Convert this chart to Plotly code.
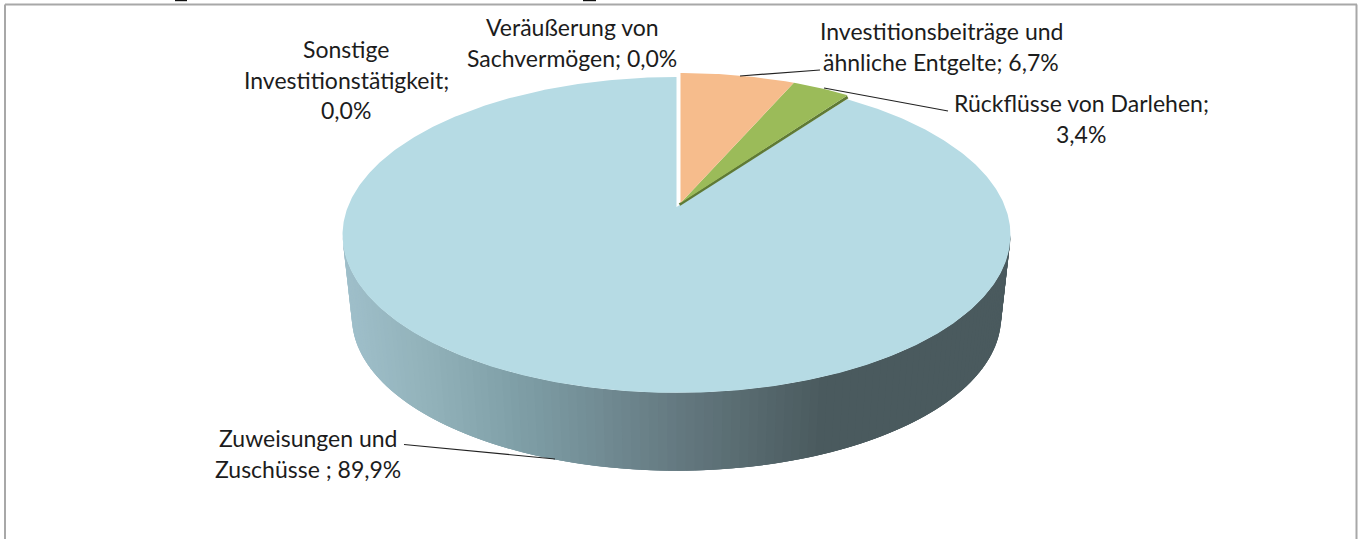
import numpy as np
import plotly.graph_objects as go

# ---- data ----
categories = ["Investitionsbeiträge und ähnliche Entgelte", "Rückflüsse von Darlehen",
              "Zuweisungen und Zuschüsse", "Sonstige Investitionstätigkeit",
              "Veräußerung von Sachvermögen"]
values = [6.7, 3.4, 89.9, 0.0, 0.0]
slice_colors = ["#F6BC8C", "#9BBB59", "#B6DBE4", "#B6DBE4", "#B6DBE4"]
label_lines = [
    ["Investitionsbeiträge und", "ähnliche Entgelte; 6,7%"],
    ["Rückflüsse von Darlehen;", "3,4%"],
    ["Zuweisungen und", "Zuschüsse ; 89,9%"],
    ["Sonstige", "Investitionstätigkeit;", "0,0%"],
    ["Veräußerung von", "Sachvermögen; 0,0%"],
]
label_x = [941, 1081, 308, 346, 572]
label_y = [31, 103, 438, 49, 27]
LINE_STEP = 30.6
FONT = "Lato"
FONT_SIZE = 23

# ---- perspective disc geometry (pixel axes) ----
K = 0.177      # perspective strength
A = 328.7      # horizontal radius
B = 153.0      # vertical radius
BODY = (676.5, 207.0)   # apex of the large slice
PULLED = (680.5, 203.0) # apex of the pulled-out slices
PULLED_SCALE = 0.98
FLOOR_Y = 290.0
FLOOR_SCALE = 0.972


def rim(theta_deg, cx, cy, sx=1.0, sy=1.0):
    t = np.radians(theta_deg)
    u, v = np.sin(t), np.cos(t)
    w = 1 + K * v
    return cx + sx * A * u / w, cy - sy * B * v / w


def side_color(x):
    xs = [345, 430, 515, 600, 680, 760, 825, 1010]
    rs = [160, 146, 128, 114, 100, 86, 74, 74]
    gs = [192, 178, 160, 140, 121, 104, 90, 90]
    bs = [203, 186, 168, 148, 128, 109, 94, 94]
    return "rgb(%d,%d,%d)" % (np.interp(x, xs, rs), np.interp(x, xs, gs), np.interp(x, xs, bs))


fig = go.Figure()


def poly(xs, ys, color):
    fig.add_trace(go.Scatter(x=xs, y=ys, mode="lines", fill="toself", fillcolor=color,
                             line=dict(color=color, width=0),
                             hoverinfo="skip", showlegend=False))


# side wall of the large slice: shaded bands painted from right to left,
# each one running under the next so that no seam shows between them
edge = np.degrees(np.arccos(-K))
steps = np.linspace(edge, 360 - edge, 121)
for j in range(len(steps) - 2, -1, -1):
    a0 = steps[j]
    a1 = steps[j + 1]
    a_far = a0 - (a1 - a0) * 2 if j >= 2 else steps[0]
    tx0, ty0 = rim(a_far, *BODY)
    tx1, ty1 = rim(a1, *BODY)
    tmx, tmy = rim(a0, *BODY)
    bx0, by0 = rim(a_far, BODY[0], FLOOR_Y, FLOOR_SCALE, FLOOR_SCALE)
    bx1, by1 = rim(a1, BODY[0], FLOOR_Y, FLOOR_SCALE, FLOOR_SCALE)
    bmx, bmy = rim(a0, BODY[0], FLOOR_Y, FLOOR_SCALE, FLOOR_SCALE)
    poly([tx0, tmx, tx1, bx1, bmx, bx0, tx0], [ty0, tmy, ty1, by1, bmy, by0, ty0],
         side_color((tmx + tx1 + bmx + bx1) / 4))

# top faces, angles come from the values
ends = np.cumsum(values) * 3.6
starts = np.concatenate([[0], ends[:-1]])
order = [2, 1, 0]
for i in order:
    a = np.linspace(starts[i], ends[i], max(int(values[i] * 6), 12))
    if i == 2:
        rx, ry = rim(a, *BODY)
        px = np.concatenate([[BODY[0]], rx, [BODY[0]]])
        py = np.concatenate([[BODY[1]], ry, [BODY[1]]])
    else:
        rx, ry = rim(a, PULLED[0], PULLED[1], PULLED_SCALE, 1.0)
        px = np.concatenate([[PULLED[0]], rx, [PULLED[0]]])
        py = np.concatenate([[PULLED[1]], ry, [PULLED[1]]])
    if i == 1:  # dark cut face under the green slice
        ex, ey = rim(ends[1], PULLED[0], PULLED[1], PULLED_SCALE, 1.0)
        fig.add_trace(go.Scatter(x=[PULLED[0] - 1, ex], y=[PULLED[1] + 1.6, ey + 1.8], mode="lines",
                                 line=dict(color="#5F7A35", width=2.8),
                                 hoverinfo="skip", showlegend=False))
    poly(px, py, slice_colors[i])

# labels, one annotation per line for the tight Office line pitch
annotations = []
for lines, lx, ly in zip(label_lines, label_x, label_y):
    for n, text in enumerate(lines):
        annotations.append(dict(x=lx, y=ly + n * LINE_STEP, text=text, xref="x", yref="y",
                                showarrow=False, xanchor="center", yanchor="middle",
                                font=dict(family=FONT, size=FONT_SIZE, color="#1c1c1c")))

# leader lines, chart frame and clipped title remnants
leaders = [((740, 76), (820, 70)),
           ((824, 88), (948, 111)),
           ((555, 459), (404, 444.5))]
shapes = []
for p0, p2 in leaders:
    shapes.append(dict(type="line", x0=p0[0], y0=p0[1], x1=p2[0], y1=p2[1],
                       line=dict(color="#222222", width=1.2), layer="above"))
frame = dict(color="#A8A8A8", width=2)
shapes += [dict(type="line", x0=5, y0=4.5, x1=1357, y1=4.5, line=frame),
           dict(type="line", x0=5, y0=4.5, x1=5, y1=539, line=frame),
           dict(type="line", x0=1356.5, y0=4.5, x1=1356.5, y1=539, line=frame)]
for x0, x1 in [(175, 187), (583, 596)]:
    shapes.append(dict(type="line", x0=x0, y0=0.6, x1=x1, y1=0.6,
                       line=dict(color="#111111", width=1.2)))

fig.update_layout(width=1362, height=539, margin=dict(l=0, r=0, t=0, b=0),
                  paper_bgcolor="white", plot_bgcolor="white", showlegend=False,
                  annotations=annotations, shapes=shapes,
                  xaxis=dict(range=[0, 1362], visible=False, fixedrange=True),
                  yaxis=dict(range=[539, 0], visible=False, fixedrange=True))
fig.write_html("out.html", config=dict(displayModeBar=False),
               post_script="document.body.style.margin='0';document.body.style.overflow='hidden';")
